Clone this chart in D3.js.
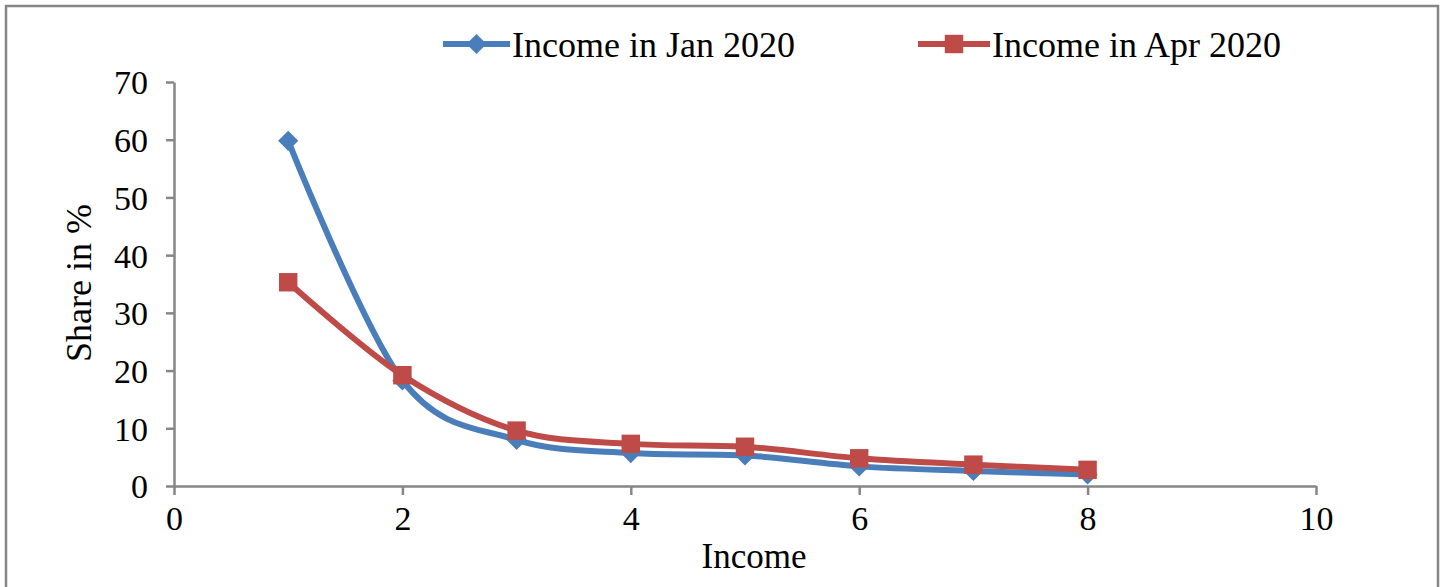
<!DOCTYPE html>
<html><head><meta charset="utf-8">
<script src="https://cdn.jsdelivr.net/npm/d3@7/dist/d3.min.js"></script>
<style>body{margin:0;background:#fff}svg{display:block}text{font-family:"Liberation Serif","Times New Roman",serif;fill:#000}</style>
</head><body><svg id="c" width="1443" height="587"></svg>
<script>
const incomeX = [1, 2, 3, 4, 5, 6, 7, 8];
const janValues = [59.8, 18.3, 8.0, 5.7, 5.3, 3.4, 2.6, 2.0];
const aprValues = [35.3, 19.2, 9.6, 7.3, 6.8, 4.8, 3.7, 2.8];
const seriesNames = ["Income in Jan 2020", "Income in Apr 2020"];
const xTicks = [0, 2, 4, 6, 8, 10];
const yTicks = [0, 10, 20, 30, 40, 50, 60, 70];

const svg = d3.select("#c");
const axisColor = "#868686";
const blue = "#4A7EBB", red = "#BE4B48";
svg.append("rect").attr("x", 6).attr("y", 6).attr("width", 1432).attr("height", 600)
  .attr("fill", "#fff").attr("stroke", axisColor).attr("stroke-width", 2.5);

const x = d3.scaleLinear().domain([0, 10]).range([174, 1316]);
const y = d3.scaleLinear().domain([0, 70]).range([486, 82]);

const xa = svg.append("g").attr("transform", "translate(0,486)")
  .call(d3.axisBottom(x).tickValues(xTicks).tickSize(9).tickSizeOuter(0).tickPadding(11));
const ya = svg.append("g").attr("transform", "translate(174,0)")
  .call(d3.axisLeft(y).tickValues(yTicks).tickSize(8).tickSizeOuter(0).tickPadding(18));
[xa, ya].forEach(a => {
  a.selectAll("path,line").attr("stroke", axisColor).attr("stroke-width", 2.5);
  a.selectAll("text").attr("font-size", 34).attr("font-family", "Liberation Serif").attr("fill", "#000");
});
ya.selectAll("text").attr("dy", "0.35em");

svg.append("text").attr("x", 754).attr("y", 568).attr("text-anchor", "middle")
  .attr("font-size", 35).text("Income");
svg.append("text").attr("transform", "translate(91,283) rotate(-90)").attr("text-anchor", "middle")
  .attr("font-size", 36).text("Share in %");

const line = d3.line().x(d => x(d[0])).y(d => y(d[1])).curve(d3.curveCatmullRom.alpha(0));
const series = [
  {name: seriesNames[0], vals: janValues, color: blue, sym: d3.symbolDiamond2, size: 260},
  {name: seriesNames[1], vals: aprValues, color: red, sym: d3.symbolSquare, size: 340}
];
series.forEach(s => {
  const pts = incomeX.map((v, i) => [v, s.vals[i]]);
  svg.append("path").attr("d", line(pts)).attr("fill", "none").attr("stroke", s.color)
    .attr("stroke-width", 6).attr("stroke-linejoin", "round");
  svg.append("g").selectAll("path").data(pts).join("path")
    .attr("transform", d => `translate(${x(d[0])},${y(d[1])})`)
    .attr("d", d3.symbol().type(s.sym).size(s.size)).attr("fill", s.color);
});

// legend
const legendPos = [{lx: 443, tx: 512}, {lx: 918, tx: 992}];
series.forEach((s, i) => {
  const p = legendPos[i];
  svg.append("line").attr("x1", p.lx).attr("x2", p.tx - 2).attr("y1", 44).attr("y2", 44)
    .attr("stroke", s.color).attr("stroke-width", 6);
  svg.append("path").attr("transform", `translate(${(p.lx + p.tx - 2) / 2},44)`)
    .attr("d", d3.symbol().type(s.sym).size(s.size)).attr("fill", s.color);
  svg.append("text").attr("x", p.tx).attr("y", 57).attr("font-size", 36).text(s.name);
});
</script></body></html>
